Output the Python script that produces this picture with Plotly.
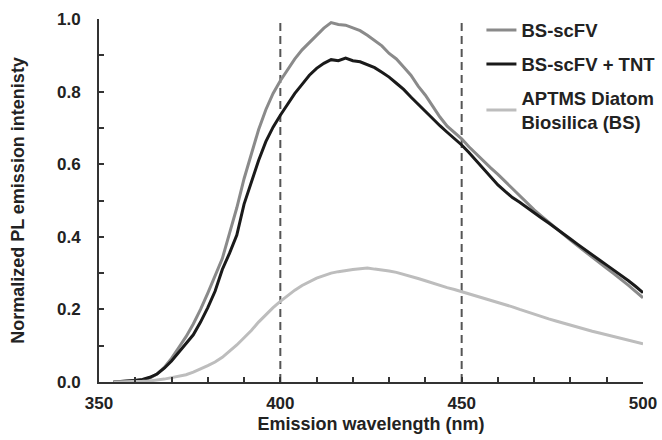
import plotly.graph_objects as go

# -----------------------------
# Data
# -----------------------------
wavelength = list(range(354, 501, 2))

bs_scfv = [
    0.000, 0.001, 0.002, 0.003, 0.006, 0.011, 0.022, 0.040, 0.065, 0.095,
    0.125, 0.160, 0.200, 0.245, 0.290, 0.340, 0.410, 0.480, 0.560, 0.630,
    0.695, 0.750, 0.795, 0.830, 0.860, 0.890, 0.915, 0.935, 0.955, 0.975,
    0.990, 0.985, 0.983, 0.976, 0.968, 0.955, 0.940, 0.926, 0.905, 0.890,
    0.868, 0.845, 0.815, 0.790, 0.760, 0.730, 0.705, 0.688, 0.670, 0.648,
    0.628, 0.608, 0.590, 0.572, 0.552, 0.532, 0.512, 0.492, 0.474, 0.457,
    0.440, 0.424, 0.407, 0.391, 0.375, 0.359, 0.344, 0.329, 0.313, 0.298,
    0.283, 0.266, 0.249, 0.232,
]

bs_scfv_tnt = [
    0.000, 0.001, 0.002, 0.004, 0.007, 0.013, 0.022, 0.038, 0.058, 0.082,
    0.105, 0.130, 0.165, 0.205, 0.250, 0.310, 0.355, 0.405, 0.490, 0.550,
    0.610, 0.662, 0.702, 0.735, 0.765, 0.795, 0.820, 0.845, 0.864, 0.878,
    0.888, 0.885, 0.892, 0.885, 0.882, 0.875, 0.866, 0.853, 0.840, 0.823,
    0.806, 0.785, 0.765, 0.745, 0.726, 0.706, 0.688, 0.670, 0.653, 0.632,
    0.610, 0.588, 0.565, 0.543, 0.525, 0.508, 0.495, 0.480, 0.466, 0.452,
    0.438, 0.424, 0.409, 0.394, 0.379, 0.364, 0.350, 0.336, 0.322, 0.308,
    0.294, 0.279, 0.263, 0.246,
]

aptms_bs = [
    0.000, 0.000, 0.001, 0.001, 0.002, 0.003, 0.005, 0.008, 0.012, 0.016,
    0.020, 0.027, 0.035, 0.045, 0.055, 0.068, 0.085, 0.102, 0.122, 0.142,
    0.165, 0.185, 0.205, 0.222, 0.238, 0.253, 0.266, 0.277, 0.286, 0.293,
    0.300, 0.304, 0.308, 0.310, 0.312, 0.314, 0.311, 0.309, 0.306, 0.302,
    0.297, 0.291, 0.285, 0.279, 0.272, 0.266, 0.260, 0.255, 0.249, 0.244,
    0.238, 0.232, 0.226, 0.221, 0.214, 0.207, 0.200, 0.193, 0.187, 0.180,
    0.174, 0.168, 0.162, 0.157, 0.151, 0.145, 0.140, 0.135, 0.130, 0.125,
    0.120, 0.115, 0.110, 0.105,
]

marker_lines = [400, 450]
x_ticks = [350, 400, 450, 500]
y_ticks = [0.0, 0.2, 0.4, 0.6, 0.8, 1.0]

FONT = "Liberation Sans, Arial, sans-serif"
INK = "#222222"
AXIS = "#333333"

# -----------------------------
# Figure
# -----------------------------
fig = go.Figure()

series = [
    ("BS-scFV", bs_scfv, "#8a8a8a"),
    ("BS-scFV + TNT", bs_scfv_tnt, "#1a1a1a"),
    ("APTMS Diatom<br>Biosilica (BS)", aptms_bs, "#bdbdbd"),
]
for i, (name, vals, color) in enumerate(series):
    fig.add_trace(go.Scatter(
        x=wavelength, y=vals, name=name, mode="lines",
        line=dict(color=color, width=3),
        legendgroup=f"g{i}",
    ))

# dashed guide lines at 400 and 450 nm
for xv in marker_lines:
    fig.add_shape(type="line", xref="x", yref="y", x0=xv, x1=xv, y0=0, y1=1.0,
                  line=dict(color="#555555", width=2, dash="8px,5px"), layer="below")

fig.update_layout(
    width=662, height=440,
    margin=dict(l=99, r=19, t=19, b=58, autoexpand=False),
    plot_bgcolor="white", paper_bgcolor="white",
    font=dict(family=FONT, size=17, color=INK, weight="bold"),
    showlegend=True,
    legend=dict(
        x=0.703, y=1.021, xanchor="left", yanchor="top",
        bgcolor="rgba(0,0,0,0)", traceorder="grouped", tracegroupgap=7,
        font=dict(family=FONT, size=18.5, color=INK, weight="bold"),
        itemwidth=30,
    ),
)

fig.update_xaxes(
    range=[350, 500], tickvals=x_ticks, ticks="inside", ticklen=5, tickwidth=1.5,
    tickcolor=AXIS, showline=True, linecolor=AXIS, linewidth=2,
    showgrid=False, zeroline=False, ticklabelstandoff=5, automargin=False,
    tickfont=dict(size=17),
    minor=dict(dtick=10, ticks="inside", ticklen=5, tickwidth=1.5, tickcolor=AXIS, showgrid=False),
    title=dict(text="Emission wavelength (nm)", standoff=5, font=dict(size=18)),
)
fig.update_yaxes(
    range=[0, 1.0], tickvals=y_ticks, tickformat=".1f", ticks="inside", ticklen=5,
    tickwidth=1.5, tickcolor=AXIS, showline=True, linecolor=AXIS, linewidth=2,
    showgrid=False, zeroline=False, ticklabelstandoff=13, automargin=False,
    tickfont=dict(size=17),
    minor=dict(dtick=0.1, ticks="inside", ticklen=5, tickwidth=1.5, tickcolor=AXIS, showgrid=False),
    title=dict(text="Normalized PL emission intenisty", standoff=28, font=dict(size=18)),
)

# drop the default body margin so the figure sits at the window's top-left corner
fig.write_html(
    "out.html",
    config={"displayModeBar": False},
    post_script="document.body.style.margin='0';document.body.style.overflow='hidden';",
)
